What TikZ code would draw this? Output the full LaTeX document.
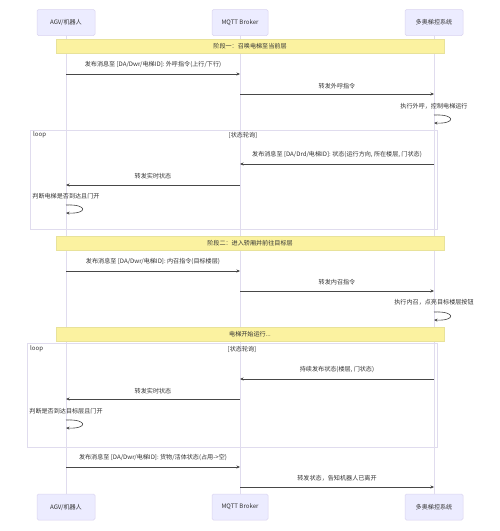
\documentclass[tikz,border=0pt]{standalone}
\usepackage{fontspec}
\setmainfont{Noto Sans CJK SC}
\usetikzlibrary{arrows.meta}
\definecolor{actfill}{HTML}{ECECFF}
\definecolor{actline}{HTML}{DAD4F0}
\definecolor{life}{HTML}{E0DCEE}
\definecolor{notefill}{HTML}{FBF2A0}
\definecolor{noteline}{HTML}{E8E29A}
\definecolor{txt}{HTML}{333333}
\begin{document}
\begin{tikzpicture}[x=1pt,y=-1pt,
  font=\fontsize{6.1}{7}\selectfont, text=txt,
  actor/.style={draw=actline, fill=actfill, rounded corners=1.5pt, minimum height=26pt, inner sep=0pt, line width=0.5pt, font=\fontsize{6.1}{7}\selectfont},
  lifeline/.style={draw=life, line width=0.6pt},
  msg/.style={draw=txt!90, line width=0.6pt, -{Stealth[length=3.5pt,width=3pt]}},
  lbl/.style={inner sep=0pt},
  notebar/.style={draw=noteline, fill=notefill, line width=0.6pt, minimum width=388pt, minimum height=14pt, inner sep=0pt},
  loopframe/.style={draw=life, line width=0.6pt}]
\useasboundingbox[fill=white] (0,0) rectangle (500,531);

% actors
\node[actor, minimum width=58pt] (agv) at (66,22.5) {AGV/机器人};
\node[actor, minimum width=56pt] (mq) at (240,22.5) {MQTT Broker};
\node[actor, minimum width=58pt] (el) at (434,22.5) {多奥梯控系统};
\node[actor, minimum width=58pt] (agvb) at (66,507) {AGV/机器人};
\node[actor, minimum width=56pt] (mqb) at (240,507) {MQTT Broker};
\node[actor, minimum width=58pt] (elb) at (434,507) {多奥梯控系统};
\draw[lifeline] (agv.south) -- (agvb.north);
\draw[lifeline] (mq.south) -- (mqb.north);
\draw[lifeline] (el.south) -- (elb.north);

% loop frames
\draw[loopframe] (30,130) rectangle (437,229);
\node[lbl, anchor=west] (lp1) at (33,135) {loop};
\node[lbl] (lp1t) at (243,135) {[状态轮询]};
\draw[loopframe] (27,343) rectangle (437,447);
\node[lbl, anchor=west] (lp2) at (30,349) {loop};
\node[lbl] (lp2t) at (242,349) {[状态轮询]};

% phase bars
\node[notebar] (n1) at (250,46) {阶段一：召唤电梯至当前层};
\node[notebar] (n2) at (250,243) {阶段二：进入轿厢并前往目标层};
\node[notebar] (n3) at (250,334) {电梯开始运行...};

% message coordinates
\coordinate (a1) at (66,74);   \coordinate (m1) at (240,74);
\coordinate (m2) at (240,94);  \coordinate (e2) at (434,94);
\coordinate (e3a) at (434,115); \coordinate (e3b) at (434,123);
\coordinate (e4) at (434,164); \coordinate (m4) at (240,164);
\coordinate (m5) at (240,185); \coordinate (a5) at (66,185);
\coordinate (a6a) at (66,205); \coordinate (a6b) at (66,213);
\coordinate (a7) at (66,271);  \coordinate (m7) at (240,271);
\coordinate (m8) at (240,291); \coordinate (e8) at (434,291);
\coordinate (e9a) at (434,312); \coordinate (e9b) at (434,320);
\coordinate (e10) at (434,379); \coordinate (m10) at (240,379);
\coordinate (m11) at (240,399); \coordinate (a11) at (66,399);
\coordinate (a12a) at (66,420); \coordinate (a12b) at (66,428);
\coordinate (a13) at (66,467); \coordinate (m13) at (240,467);
\coordinate (m14) at (240,487); \coordinate (e14) at (434,487);

% messages
\draw[msg] (a1) -- (m1);
\node[lbl] (t1) at (153,65) {发布消息至 [DA/Dwr/电梯ID]: 外呼指令(上行/下行)};
\draw[msg] (m2) -- (e2);
\node[lbl] (t2) at (337,86) {转发外呼指令};
\draw[msg] (e3a) .. controls (456,114) and (456,124) .. (e3b);
\node[lbl] (t3) at (434,106) {执行外呼，控制电梯运行};
\draw[msg] (e4) -- (m4);
\node[lbl] (t4) at (337,155) {发布消息至 [DA/Drd/电梯ID]: 状态(运行方向, 所在楼层, 门状态)};
\draw[msg] (m5) -- (a5);
\node[lbl] (t5) at (153,176) {转发实时状态};
\draw[msg] (a6a) .. controls (88,204) and (88,214) .. (a6b);
\node[lbl] (t6) at (66,196) {判断电梯是否到达且门开};
\draw[msg] (a7) -- (m7);
\node[lbl] (t7) at (153,261) {发布消息至 [DA/Dwr/电梯ID]: 内召指令(目标楼层)};
\draw[msg] (m8) -- (e8);
\node[lbl] (t8) at (337,282) {转发内召指令};
\draw[msg] (e9a) .. controls (456,311) and (456,321) .. (e9b);
\node[lbl] (t9) at (434,302) {执行内召，点亮目标楼层按钮};
\draw[msg] (e10) -- (m10);
\node[lbl] (t10) at (337,370) {持续发布状态(楼层, 门状态)};
\draw[msg] (m11) -- (a11);
\node[lbl] (t11) at (153,391) {转发实时状态};
\draw[msg] (a12a) .. controls (88,419) and (88,429) .. (a12b);
\node[lbl] (t12) at (66,411) {判断是否到达目标层且门开};
\draw[msg] (a13) -- (m13);
\node[lbl] (t13) at (153,457) {发布消息至 [DA/Dwr/电梯ID]: 货物/活体状态(占用->空)};
\draw[msg] (m14) -- (e14);
\node[lbl] (t14) at (337,478) {转发状态，告知机器人已离开};
\end{tikzpicture}
\end{document}
